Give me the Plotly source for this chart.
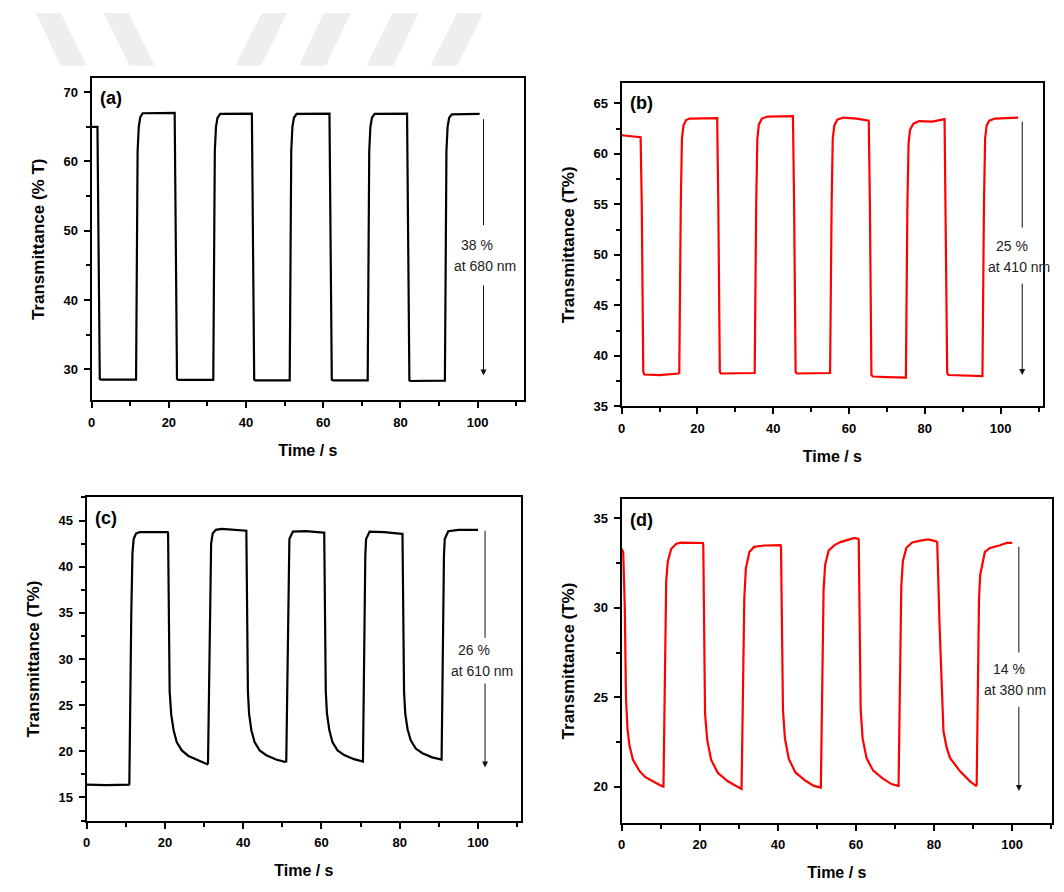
import plotly.graph_objects as go

# ---------------- data ----------------
# (a) 680 nm, black
t_a = [0, 1.5, 2.1, 2.4, 11.5, 11.9, 12.2, 12.6, 13.2, 21.5, 22.1, 22.4,
       31.5, 31.9, 32.2, 32.6, 33.3, 41.5, 42.1, 42.4,
       51.3, 51.7, 52.0, 52.4, 53.1, 61.6, 62.2, 62.5,
       71.5, 71.9, 72.2, 72.6, 73.3, 81.7, 82.3, 82.6,
       91.5, 91.9, 92.2, 92.6, 93.3, 100.5]
T_a = [65.0, 65.0, 28.6, 28.5, 28.5, 61.5, 65.0, 66.4, 66.95, 67.0, 28.6, 28.45,
       28.45, 61.5, 65.0, 66.3, 66.85, 66.9, 28.5, 28.4,
       28.4, 61.5, 65.0, 66.3, 66.85, 66.9, 28.5, 28.4,
       28.4, 61.5, 65.0, 66.3, 66.85, 66.9, 28.4, 28.3,
       28.35, 61.5, 65.0, 66.3, 66.8, 66.85]

# (b) 410 nm, red
t_b = [0, 3, 5.0, 5.3, 5.7, 6.0, 10, 15.0, 15.2, 15.6, 15.9, 16.3, 17.0, 18.0, 22, 25.2,
       25.5, 25.9, 26.2, 35.1, 35.5, 35.8, 36.2, 37.0, 38.5, 45.2,
       45.5, 45.9, 46.2, 55.0, 55.4, 55.7, 56.1, 56.9, 58.5, 62, 65.2,
       65.5, 65.9, 66.3, 70, 75.0, 75.4, 75.7, 76.1, 77.0, 78.5, 82, 85.2,
       85.5, 85.9, 86.2, 90, 95.2, 95.6, 95.9, 96.3, 97.0, 98.5, 104.6]
T_b = [61.85, 61.75, 61.65, 55, 38.4, 38.15, 38.1, 38.25, 38.3, 55, 61.5, 62.8, 63.35, 63.5, 63.5, 63.55,
       55, 38.4, 38.25, 38.3, 55, 61.5, 62.9, 63.5, 63.7, 63.75,
       55, 38.4, 38.25, 38.3, 55, 61.5, 62.8, 63.4, 63.6, 63.5, 63.3,
       55, 38.1, 37.95, 37.9, 37.85, 55, 61.0, 62.4, 63.0, 63.25, 63.2, 63.45,
       55, 38.3, 38.1, 38.05, 38.0, 55, 61.5, 62.8, 63.3, 63.5, 63.6]

# (c) 610 nm, black
t_c = [0, 5, 10.8, 10.9, 11.4, 11.7, 12.0, 12.6, 13.5, 20.7,
       20.8, 21.2, 21.6, 22.2, 23.0, 24.3, 26.0, 28.5, 30.8,
       31.0, 31.5, 31.8, 32.2, 33.0, 34.5, 37.0, 40.5,
       40.8, 41.2, 41.5, 42.1, 42.9, 44.2, 45.9, 48.4, 50.6,
       51.0, 51.6, 51.8, 52.7, 56.0, 60.5,
       60.7, 61.1, 61.4, 62.0, 62.8, 64.1, 65.8, 68.3, 70.5,
       70.6, 71.2, 71.4, 72.3, 76.0, 80.6,
       80.7, 81.1, 81.4, 82.0, 82.8, 84.1, 85.8, 88.3, 90.6,
       90.7, 91.3, 91.5, 92.4, 95.0, 100.0]
T_c = [16.4, 16.35, 16.4, 16.5, 35.0, 41.5, 43.0, 43.6, 43.75, 43.75,
       43.6, 26.5, 24.0, 22.3, 21.0, 20.1, 19.5, 19.0, 18.6,
       18.7, 38.0, 42.5, 43.6, 44.0, 44.1, 44.0, 43.9,
       43.9, 26.5, 24.05, 22.26, 21.0, 20.1, 19.58, 19.11, 18.86,
       18.9, 41.2, 43.0, 43.8, 43.85, 43.7,
       43.7, 26.5, 24.1, 22.3, 21.0, 20.1, 19.6, 19.15, 18.9,
       18.9, 41.2, 43.0, 43.8, 43.75, 43.55,
       43.55, 26.5, 24.1, 22.4, 21.2, 20.3, 19.8, 19.35, 19.1,
       19.1, 41.2, 43.0, 43.85, 44.0, 44.0]

# (d) 380 nm, red
t_d = [0, 0.4, 0.8, 1.1, 1.5, 2.0, 2.9, 4.6, 6.0, 7.5, 8.9, 10.6,
       10.7, 11.4, 11.8, 12.7, 14.0, 15.2, 20.8,
       20.9, 21.35, 21.9, 22.9, 24.6, 27.1, 29.3, 30.5,
       30.7, 31.4, 31.8, 32.7, 33.9, 36.5, 40.7,
       40.8, 41.3, 41.8, 42.8, 44.5, 47.0, 49.2, 50.8,
       51.0, 51.7, 52.1, 53.0, 54.5, 56.0, 58.0, 59.6, 60.6,
       60.7, 61.2, 61.7, 62.7, 64.4, 66.9, 69.1, 70.8,
       70.9, 71.6, 72.0, 72.9, 74.4, 76.5, 78.5, 80.6,
       80.8, 81.4, 82.0, 82.4, 83.2, 84.1, 86.7, 89.2, 90.7,
       90.9, 91.5, 91.8, 93.0, 94.3, 96.9, 98.6, 100.0]
T_d = [33.3, 33.1, 30.0, 25.0, 23.2, 22.3, 21.5, 20.87, 20.55, 20.35, 20.2, 20.0,
       20.0, 31.46, 32.57, 33.3, 33.58, 33.64, 33.62,
       33.5, 24.1, 22.62, 21.51, 20.78, 20.32, 20.04, 19.89,
       19.88, 30.54, 32.2, 33.12, 33.4, 33.48, 33.5,
       33.4, 24.3, 22.7, 21.55, 20.8, 20.35, 20.05, 19.95,
       19.95, 31.0, 32.4, 33.2, 33.5, 33.67, 33.8, 33.9, 33.85,
       33.8, 24.3, 22.7, 21.6, 20.9, 20.45, 20.15, 20.05,
       20.05, 31.2, 32.6, 33.35, 33.65, 33.75, 33.82, 33.7,
       33.65, 29.0, 25.0, 23.1, 22.2, 21.6, 20.85, 20.3, 20.05,
       20.1, 30.5, 31.83, 33.12, 33.34, 33.49, 33.62, 33.62]

panel_labels = ["(a)", "(b)", "(c)", "(d)"]
y_titles = ["Transmittance (% T)", "Transmittance (T%)", "Transmittance (T%)", "Transmittance (T%)"]
x_title = "Time / s"
note_pct = ["38 %", "25 %", "26 %", "14 %"]
note_nm = ["at 680 nm", "at 410 nm", "at 610 nm", "at 380 nm"]

# ---------------- figure ----------------
W, H = 1064, 892
FONT = "Liberation Sans, Arial, sans-serif"

def px_x(v):
    return v / W

def px_y(v):
    return 1 - v / H

# panel frames in pixels: (left, right, top, bottom)
frames = [(88, 522, 79, 404), (620, 1043, 84, 410), (83, 519, 502, 828), (620, 1052, 504, 830)]
x_ranges = [[0, 112], [0, 111.2], [0, 111], [0, 110.2]]
y_ranges = [[25.5, 72], [35, 67], [12.5, 47.5], [18, 36.05]]
y_dticks = [10, 5, 5, 5]
colors = ["#000000", "#ff0000", "#000000", "#ff0000"]
series = [(t_a, T_a), (t_b, T_b), (t_c, T_c), (t_d, T_d)]

# annotation geometry in data units: x, top, upper-end, lower-start, tip, pct-x, pct-y, nm-x, nm-y
notes = [
    (101.5, 66.1, 50.8, 42.3, 29.1, 99.9, 48.0, 102.0, 44.9),
    (105.7, 63.2, 52.7, 47.3, 38.1, 102.9, 50.9, 104.8, 48.8),
    (101.8, 43.9, 32.3, 27.5, 18.25, 99.1, 31.0, 101.0, 28.7),
    (101.7, 33.4, 27.5, 24.55, 19.76, 99.1, 26.58, 100.8, 25.38),
]

fig = go.Figure()
shapes = []
annotations = []

for i in range(4):
    n = "" if i == 0 else str(i + 1)
    xa, ya = "x" + n, "y" + n
    t, v = series[i]
    fig.add_trace(go.Scatter(x=t, y=v, mode="lines", xaxis=xa, yaxis=ya,
                             line=dict(color=colors[i], width=2.2), showlegend=False,
                             hoverinfo="skip"))
    l, r, tp, b = frames[i]
    axis_common = dict(showline=True, linecolor="black", linewidth=2, mirror=True,
                       ticks="outside", ticklen=6, tickwidth=2, tickcolor="black",
                       showgrid=False, zeroline=False, ticklabelstandoff=3,
                       tickfont=dict(family=FONT, size=13, color="black", weight="bold"))
    fig.layout["xaxis" + n] = dict(
        domain=[px_x(l), px_x(r)], anchor=ya, range=x_ranges[i], dtick=20, tick0=0,
        minor=dict(ticks="outside", ticklen=4, tickwidth=2, tickcolor="black", dtick=10, showgrid=False),
        title=dict(text=x_title, font=dict(family=FONT, size=16, color="black", weight="bold"), standoff=16),
        **axis_common)
    fig.layout["yaxis" + n] = dict(
        domain=[px_y(b), px_y(tp)], anchor=xa, range=y_ranges[i], dtick=y_dticks[i], tick0=0,
        minor=dict(ticks="outside", ticklen=4, tickwidth=2, tickcolor="black", dtick=y_dticks[i] / 2, showgrid=False),
        title=dict(text=y_titles[i], font=dict(family=FONT, size=17, color="black", weight="bold"), standoff=15),
        **axis_common)

    # panel label
    annotations.append(dict(text=panel_labels[i], xref=xa + " domain", yref=ya + " domain",
                            x=0.015, y=0.975, xanchor="left", yanchor="top", showarrow=False,
                            font=dict(family=FONT, size=18, color="black", weight="bold")))
    ax_x, top, up_end, low_start, tip, px1, py1, px2, py2 = notes[i]
    shapes.append(dict(type="line", xref=xa, yref=ya, x0=ax_x, x1=ax_x, y0=top, y1=up_end,
                       line=dict(color="#111111", width=1)))
    annotations.append(dict(x=ax_x, y=tip, ax=ax_x, ay=low_start, xref=xa, yref=ya,
                            axref=xa, ayref=ya, text="", showarrow=True, arrowhead=2,
                            arrowsize=1.2, arrowwidth=1, arrowcolor="#111111", standoff=0))
    annotations.append(dict(x=px1, y=py1, xref=xa, yref=ya, text=note_pct[i], showarrow=False,
                            font=dict(family=FONT, size=14, color="#222222")))
    annotations.append(dict(x=px2, y=py2, xref=xa, yref=ya, text=note_nm[i], showarrow=False,
                            font=dict(family=FONT, size=14, color="#222222")))

# faint watermark bands at the top of the page (pixel corners)
bands = [
    (32, 57, 83, 57), (100, 125, 151, 126),
    (259, 284, 258, 232), (321, 348, 323, 296), (390, 416, 391, 364), (455, 481, 455, 428),
]
for tl, tr, br, bl in bands:
    path = "M {} {} L {} {} L {} {} L {} {} Z".format(
        px_x(tl), px_y(13), px_x(tr), px_y(13), px_x(br), px_y(66), px_x(bl), px_y(66))
    shapes.append(dict(type="path", xref="paper", yref="paper", path=path,
                       fillcolor="#eeeeee", line=dict(width=0), layer="below"))

fig.update_layout(width=W, height=H, margin=dict(l=0, r=0, t=0, b=0),
                  paper_bgcolor="white", plot_bgcolor="white",
                  shapes=shapes, annotations=annotations,
                  font=dict(family=FONT, color="black"))

fig.write_html("out.html", config={"displayModeBar": False},
               post_script="document.body.style.margin='0';")
